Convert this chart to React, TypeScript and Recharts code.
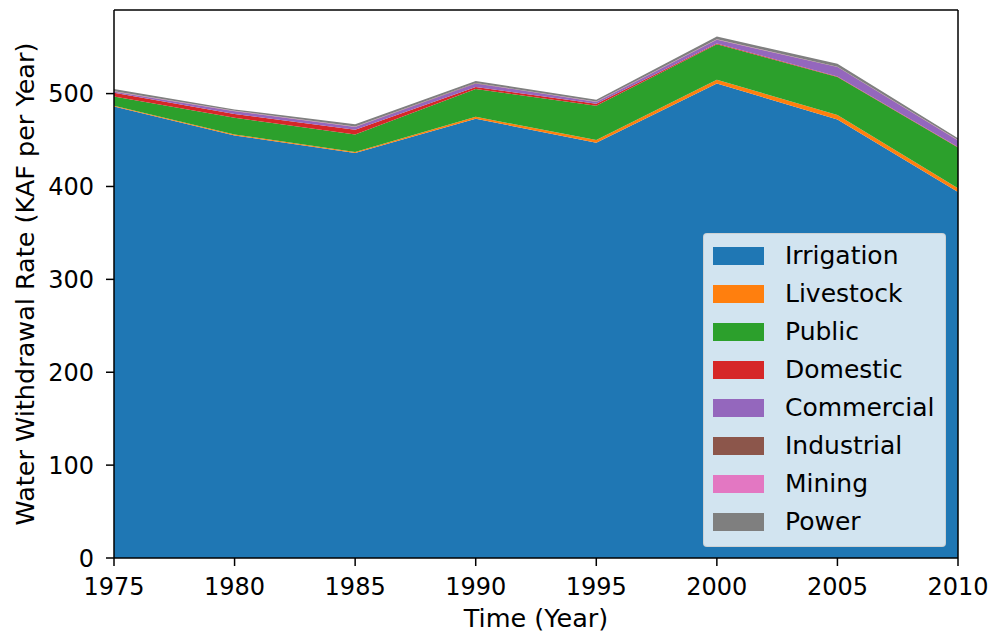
import React from "react";
import { AreaChart, Area, XAxis, YAxis } from "recharts";

// values in KAF per year
const years = [1975, 1980, 1985, 1990, 1995, 2000, 2005, 2010];
const irrigation = [486, 455, 436, 473, 447, 511, 472, 394];
const livestock = [1, 1, 1, 2, 3, 4, 5, 4];
const publicSupply = [10, 18, 19, 30, 37, 38, 41, 44];
const domestic = [4, 4, 5, 2, 2, 1, 0.5, 0.5];
const commercial = [1, 3, 3, 4, 2, 4, 10, 7];
const industrial = [0.3, 0.3, 0.3, 0.3, 0.3, 0.3, 0.3, 0.3];
const mining = [0.2, 0.2, 0.2, 0.2, 0.2, 0.2, 0.2, 0.2];
const power = [2.5, 1.5, 2.5, 2, 2, 3, 3, 2];

const xTicks = [1975, 1980, 1985, 1990, 1995, 2000, 2005, 2010];
const yTicks = [0, 100, 200, 300, 400, 500];

const SERIES = [
  { key: "Irrigation", values: irrigation, color: "#1f77b4" },
  { key: "Livestock", values: livestock, color: "#ff7f0e" },
  { key: "Public", values: publicSupply, color: "#2ca02c" },
  { key: "Domestic", values: domestic, color: "#d62728" },
  { key: "Commercial", values: commercial, color: "#9467bd" },
  { key: "Industrial", values: industrial, color: "#8c564b" },
  { key: "Mining", values: mining, color: "#e377c2" },
  { key: "Power", values: power, color: "#7f7f7f" },
];

const rows = years.map((year, i) => {
  const row: Record<string, number> = { year };
  SERIES.forEach((s) => { row[s.key] = s.values[i]; });
  return row;
});

const FONT = "'DejaVu Sans', sans-serif";
const FS = 24;
const LABEL_FS = 25.5;
const AXIS = { stroke: "#000", strokeWidth: 1.5 };

// matplotlib-style legend box, sits on top of the plot (lower right)
function LegendBox() {
  return (
    <div
      style={{
        position: "absolute",
        left: 703,
        top: 233,
        width: 243,
        height: 314,
        boxSizing: "border-box",
        background: "rgba(255,255,255,0.8)",
        border: "1px solid rgba(204,204,204,0.8)",
        borderRadius: 4,
        fontFamily: FONT,
        fontSize: 25,
        color: "#000",
      }}
    >
      {SERIES.map((s, i) => (
        <div
          key={s.key}
          style={{ position: "absolute", left: 0, top: 22 + i * 38 - 14, height: 28, display: "flex", alignItems: "center", whiteSpace: "nowrap" }}
        >
          <span style={{ marginLeft: 9, width: 51, height: 18, background: s.color, display: "inline-block" }} />
          <span style={{ marginLeft: 21, lineHeight: "28px" }}>{s.key}</span>
        </div>
      ))}
    </div>
  );
}

export default function App() {
  return (
    <div style={{ position: "absolute", left: 0, top: 0, width: 994, height: 636, background: "#fff" }}>
      <AreaChart width={994} height={636} data={rows} margin={{ top: 9, right: 35, left: 0, bottom: 0 }}>
        <XAxis
          dataKey="year"
          type="number"
          domain={[1975, 2010]}
          ticks={xTicks}
          height={78}
          tickSize={8}
          tickMargin={12}
          axisLine={AXIS}
          tickLine={AXIS}
          tick={{ fontSize: FS, fill: "#000", fontFamily: FONT }}
          label={{
            content: () => (
              <text x={536} y={627} textAnchor="middle" fontSize={LABEL_FS} fontFamily={FONT} fill="#000">
                Time (Year)
              </text>
            ),
          }}
        />
        <XAxis
          xAxisId="top"
          orientation="top"
          dataKey="year"
          type="number"
          domain={[1975, 2010]}
          height={1}
          tick={false}
          tickLine={false}
          axisLine={AXIS}
        />
        <YAxis
          domain={[0, 590]}
          ticks={yTicks}
          width={114}
          tickSize={8}
          tickMargin={12}
          axisLine={AXIS}
          tickLine={AXIS}
          tick={{ fontSize: FS, fill: "#000", fontFamily: FONT }}
          label={{
            content: () => (
              <text
                x={34}
                y={284}
                transform="rotate(-90 34 284)"
                textAnchor="middle"
                fontSize={LABEL_FS}
                fontFamily={FONT}
                fill="#000"
              >
                Water Withdrawal Rate (KAF per Year)
              </text>
            ),
          }}
        />
        <YAxis
          yAxisId="right"
          orientation="right"
          domain={[0, 590]}
          width={1}
          tick={false}
          tickLine={false}
          axisLine={AXIS}
        />
        {SERIES.map((s) => (
          <Area
            key={s.key}
            type="linear"
            dataKey={s.key}
            stackId="1"
            stroke="none"
            fill={s.color}
            fillOpacity={1}
            isAnimationActive={false}
          />
        ))}
      </AreaChart>
      <LegendBox />
    </div>
  );
}
